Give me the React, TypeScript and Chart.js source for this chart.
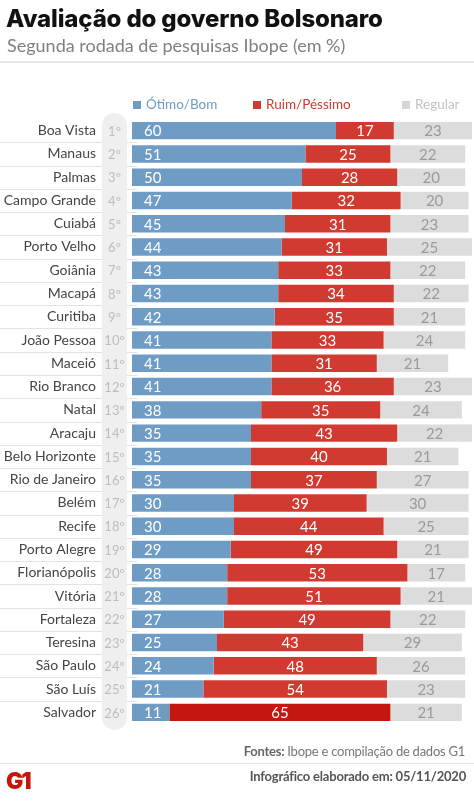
import React, { useEffect, useRef } from "react";
import { Chart, registerables } from "chart.js";

Chart.register(...registerables);

const cities = [
  "Boa Vista", "Manaus", "Palmas", "Campo Grande", "Cuiabá", "Porto Velho", "Goiânia", "Macapá",
  "Curitiba", "João Pessoa", "Maceió", "Rio Branco", "Natal", "Aracaju", "Belo Horizonte",
  "Rio de Janeiro", "Belém", "Recife", "Porto Alegre", "Florianópolis", "Vitória", "Fortaleza",
  "Teresina", "São Paulo", "São Luís", "Salvador",
];
const ranks = [
  "1º", "2º", "3º", "4º", "5º", "6º", "7º", "8º", "9º", "10º", "11º", "12º", "13º",
  "14º", "15º", "16º", "17º", "18º", "19º", "20º", "21º", "22º", "23º", "24º", "25º", "26º",
];
const otimoBom = [60, 51, 50, 47, 45, 44, 43, 43, 42, 41, 41, 41, 38, 35, 35, 35, 30, 30, 29, 28, 28, 27, 25, 24, 21, 11];
const ruimPessimo = [17, 25, 28, 32, 31, 31, 33, 34, 35, 33, 31, 36, 35, 43, 40, 37, 39, 44, 49, 53, 51, 49, 43, 48, 54, 65];
const regular = [23, 22, 20, 20, 23, 25, 22, 22, 21, 24, 21, 23, 24, 22, 21, 27, 30, 25, 21, 17, 21, 22, 29, 26, 23, 21];
const seriesNames = ["Ótimo/Bom", "Ruim/Péssimo", "Regular"];

const BLUE = "#6f9cc4";
const RED = "#d03a30";
const RED_DARK = "#c4170f";
const GRAY = "#dcdcdc";
const FONT = "Lato, 'Open Sans', sans-serif";

export default function App() {
  const ref = useRef<HTMLCanvasElement>(null);

  useEffect(() => {
    if (!ref.current) return;
    const rowsPlugin = {
      id: "rows",
      beforeDraw(chart: any) {
        const { ctx, chartArea, scales } = chart;
        const y = scales.y;
        ctx.save();
        ctx.strokeStyle = "#e3e3e3";
        ctx.lineWidth = 1;
        for (let i = 0; i < cities.length - 1; i++) {
          const yy = Math.round((y.getPixelForValue(i) + y.getPixelForValue(i + 1)) / 2) + 0.5;
          ctx.beginPath();
          ctx.moveTo(0, yy);
          ctx.lineTo(chartArea.left + 5, yy);
          ctx.stroke();
        }
        const px = 102;
        const pw = 25;
        const top = chartArea.top - 6;
        const bot = chartArea.bottom + 6;
        ctx.fillStyle = "#efefef";
        ctx.beginPath();
        ctx.roundRect(px, top, pw, bot - top, 12.5);
        ctx.fill();
        ctx.fillStyle = "#bdbdbd";
        ctx.font = `13px ${FONT}`;
        ctx.textAlign = "center";
        ctx.textBaseline = "middle";
        ranks.forEach((r, i) => ctx.fillText(r, px + pw / 2, y.getPixelForValue(i) + 1));
        ctx.restore();
      },
    };
    const valuesPlugin = {
      id: "values",
      afterDatasetsDraw(chart: any) {
        const { ctx } = chart;
        ctx.save();
        ctx.font = `15px ${FONT}`;
        ctx.textBaseline = "middle";
        chart.data.datasets.forEach((ds: any, di: number) => {
          const meta = chart.getDatasetMeta(di);
          meta.data.forEach((el: any, i: number) => {
            const v = ds.data[i];
            const yy = el.y + 1;
            if (di === 0) {
              ctx.fillStyle = "#ffffff";
              ctx.textAlign = "left";
              ctx.fillText(String(v), el.base + 12, yy);
            } else {
              ctx.fillStyle = di === 1 ? "#ffffff" : "#9a9a9a";
              ctx.textAlign = "center";
              ctx.fillText(String(v), (el.base + el.x) / 2, yy);
            }
          });
        });
        ctx.restore();
      },
    };

    const chart = new Chart(ref.current, {
      type: "bar",
      data: {
        labels: cities,
        datasets: [
          { label: seriesNames[0], data: otimoBom, backgroundColor: BLUE },
          {
            label: seriesNames[1],
            data: ruimPessimo,
            backgroundColor: cities.map((_, i) => (i === cities.length - 1 ? RED_DARK : RED)),
          },
          { label: seriesNames[2], data: regular, backgroundColor: GRAY },
        ],
      },
      options: {
        indexAxis: "y",
        animation: false,
        responsive: false,
        maintainAspectRatio: false,
        layout: { padding: { left: 0, right: 2, top: 119, bottom: 80 } },
        datasets: { bar: { categoryPercentage: 1, barPercentage: 0.75, borderWidth: 0, inflateAmount: 0 } },
        scales: {
          x: { stacked: true, min: 0, max: 100, display: false },
          y: {
            stacked: true,
            grid: { display: false, drawTicks: false },
            border: { display: false },
            ticks: { color: "#444", font: { family: FONT, size: 14 }, padding: 36, autoSkip: false },
            afterFit(scale: any) {
              scale.width = 132;
            },
          },
        },
        plugins: { legend: { display: false }, tooltip: { enabled: false } },
      },
      plugins: [rowsPlugin, valuesPlugin],
    } as any);
    return () => chart.destroy();
  }, []);

  const abs = (extra: React.CSSProperties): React.CSSProperties => ({
    position: "absolute",
    whiteSpace: "nowrap",
    lineHeight: 1,
    fontFamily: FONT,
    ...extra,
  });

  const legendItem = (x: number, color: string, text: string, textColor: string) => (
    <div style={abs({ left: x, top: 98, fontSize: 13.5, color: textColor })}>
      <span style={{ display: "inline-block", width: 8, height: 8, background: color, marginRight: 5, verticalAlign: 0 }} />
      {text}
    </div>
  );

  return (
    <div style={{ position: "absolute", left: 0, top: 0, width: 474, height: 804, background: "#fff", overflow: "hidden" }}>
      <canvas ref={ref} width={474} height={804} style={{ position: "absolute", left: 0, top: 0, width: 474, height: 804 }} />
      <div style={abs({ left: 6, top: 7, fontSize: 24, fontWeight: 800, color: "#111", fontFamily: "Inter, Lato, sans-serif", letterSpacing: -0.15 })}>
        Avaliação do governo Bolsonaro
      </div>
      <div style={abs({ left: 7, top: 36, fontSize: 18, color: "#808080" })}>Segunda rodada de pesquisas Ibope (em %)</div>
      <div style={{ position: "absolute", left: 0, top: 61, width: 474, height: 2, background: "#e8e8e8" }} />
      {legendItem(133, BLUE, seriesNames[0], BLUE)}
      {legendItem(253, RED, seriesNames[1], RED)}
      {legendItem(402, "#d6d6d6", seriesNames[2], "#c2c2c2")}
      <div style={abs({ right: 9, top: 745, fontSize: 13, color: "#777", letterSpacing: -0.25 })}>
        <span style={{ fontWeight: 700, color: "#666" }}>Fontes:</span> Ibope e compilação de dados G1
      </div>
      <div style={{ position: "absolute", left: 0, top: 763, width: 474, height: 1, background: "#e6e6e6" }} />
      <div style={abs({ right: 8, top: 770, fontSize: 13, fontWeight: 700, color: "#555", letterSpacing: -0.2 })}>
        Infográfico elaborado em: 05/11/2020
      </div>
      <div style={abs({ left: 6, top: 770, fontSize: 23, fontWeight: 900, color: "#c4170c", letterSpacing: -2, fontFamily: "Inter, Lato, sans-serif" })}>G1</div>
    </div>
  );
}
